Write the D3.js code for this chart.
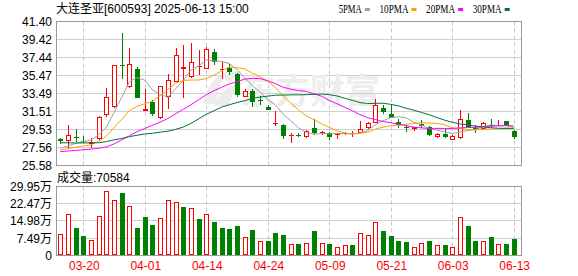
<!DOCTYPE html>
<html><head><meta charset="utf-8">
<script src="https://cdn.jsdelivr.net/npm/d3@7/dist/d3.min.js"></script>
<style>body{margin:0;background:#fff}svg{display:block}</style>
</head><body><svg id="c" width="578" height="276"></svg>
<script>
const stockName = "大连圣亚";
const stockCode = "600593";
const stamp = "2025-06-13 15:00";
const dates = ["03-17","03-18","03-19","03-20","03-21","03-24","03-25","03-26","03-27","03-28","03-31",
"04-01","04-02","04-03","04-07","04-08","04-09","04-10","04-11","04-14","04-15","04-16","04-17","04-18","04-21","04-22","04-23","04-24","04-25","04-28","04-29","04-30",
"05-06","05-07","05-08","05-09","05-12","05-13","05-14","05-15","05-16","05-19","05-20","05-21","05-22","05-23","05-26","05-27","05-28","05-29","05-30",
"06-03","06-04","06-05","06-06","06-09","06-10","06-11","06-12","06-13"];
const open  = [28.45,28.25,28.75,28.22,27.95,28.45,31.10,32.00,36.65,34.25,36.15,31.60,32.55,30.80,33.15,34.75,36.15,35.35,36.45,36.20,38.05,36.18,36.30,35.65,33.15,33.75,32.80,32.00,30.25,30.00,28.85,28.95,28.70,29.65,29.15,29.20,28.90,29.15,29.00,29.20,29.65,30.30,31.90,31.25,30.35,29.78,29.55,30.15,29.80,28.70,29.05,28.40,28.55,30.60,29.65,29.55,30.08,29.95,30.45,29.35];
const high  = [28.65,30.00,29.60,28.85,28.55,31.00,34.10,36.60,40.15,38.50,36.45,34.00,32.80,34.35,35.65,38.50,38.85,39.00,38.27,38.55,38.40,36.90,36.75,35.70,33.95,34.00,33.20,32.27,31.60,30.15,29.10,29.10,29.50,30.65,29.40,29.25,29.10,29.30,29.40,30.45,30.40,32.85,32.25,32.35,30.65,30.05,29.80,30.60,29.95,29.20,29.60,28.90,31.70,31.30,30.00,30.35,30.65,30.58,30.45,29.45];
const low   = [27.95,27.35,28.15,28.00,27.45,28.35,30.95,31.95,35.10,34.10,33.00,31.55,31.00,30.70,31.75,34.70,33.05,35.20,35.49,36.15,36.60,35.10,35.55,33.10,33.10,32.05,32.20,31.65,29.90,28.45,28.10,28.70,28.65,28.90,28.90,28.40,28.50,28.95,28.75,29.10,29.55,30.25,31.25,30.75,29.70,29.25,29.35,29.65,28.80,28.55,28.55,28.35,28.50,29.80,29.10,29.50,29.65,29.90,29.90,28.50];
const close = [28.25,28.90,28.55,28.12,28.15,30.95,33.15,36.60,36.55,36.75,33.05,31.80,31.20,34.30,34.95,37.70,36.40,37.00,36.52,38.35,37.00,36.22,35.80,33.30,33.80,32.60,32.75,31.70,30.30,28.85,28.90,28.80,29.35,29.18,29.22,28.75,29.05,29.20,29.10,29.55,30.20,32.20,31.45,30.80,30.00,29.65,29.78,29.92,28.95,29.05,28.75,28.80,30.65,29.85,29.60,30.20,30.02,30.08,29.92,28.70];
const prevClose0 = 28.00;
// volume in units of 万 (10,000)
const volume = [9.3,18.2,11.8,8.3,6.7,17.3,27.8,24.3,27.0,21.7,11.8,16.6,13.1,16.4,24.3,23.4,20.9,20.8,15.7,18.2,14.7,11.8,11.3,12.6,8.1,10.9,6.5,6.5,9.6,8.7,5.1,4.8,5.5,10.5,5.5,4.8,3.9,4.7,4.4,9.9,9.0,14.7,10.5,8.3,6.5,5.7,3.5,5.5,6.1,4.4,4.4,3.5,16.6,12.6,6.5,6.4,7.9,5.1,5.2,7.0584];
const lastVolume = 70584;
const ma5  = [27.45,27.75,28.00,28.20,28.39,28.93,29.78,31.39,33.08,34.80,35.22,34.95,33.87,33.42,33.06,33.99,34.91,36.07,36.51,37.19,37.05,37.02,36.78,36.13,35.22,34.34,33.65,32.83,32.23,31.24,30.50,29.71,29.24,29.02,29.09,29.06,29.11,29.08,29.06,29.13,29.42,30.05,30.50,30.84,30.93,30.82,30.34,30.03,29.66,29.47,29.29,29.09,29.24,29.42,29.53,29.82,30.06,29.95,29.96,29.78];
const ma10 = [27.28,27.42,27.58,27.72,27.85,28.21,28.80,29.73,30.65,31.60,32.08,32.37,32.63,33.25,33.93,34.61,34.93,34.97,34.97,35.13,35.52,35.96,36.42,36.32,36.21,35.70,35.33,34.80,34.18,33.23,32.42,31.68,31.04,30.62,30.17,29.78,29.41,29.16,29.04,29.11,29.24,29.58,29.79,29.95,30.03,30.12,30.19,30.27,30.25,30.20,30.06,29.72,29.64,29.54,29.50,29.56,29.58,29.60,29.69,29.66];
const ma20 = [27.10,27.17,27.24,27.31,27.38,27.48,27.62,27.95,28.40,28.85,29.30,29.65,30.00,30.35,30.75,31.25,31.75,32.25,32.80,33.36,33.80,34.17,34.53,34.79,35.07,35.15,35.13,34.89,34.57,34.18,33.97,33.82,33.73,33.47,33.19,32.74,32.37,31.98,31.61,31.17,30.83,30.63,30.41,30.29,30.10,29.95,29.80,29.71,29.65,29.66,29.65,29.65,29.71,29.75,29.77,29.84,29.89,29.93,29.97,29.93];
const ma30 = [28.08,28.07,28.06,28.06,28.07,28.08,28.20,28.40,28.55,28.75,28.90,29.05,29.12,29.25,29.35,29.55,29.80,30.20,30.70,31.20,31.60,32.00,32.25,32.50,32.70,32.95,33.10,33.20,33.30,33.32,33.34,33.34,33.36,33.40,33.43,33.36,33.22,32.98,32.73,32.49,32.39,32.41,32.42,32.30,32.13,31.87,31.65,31.41,31.16,30.85,30.57,30.33,30.15,30.04,29.90,29.82,29.73,29.67,29.66,29.66];
const maNames = ["5PMA","10PMA","20PMA","30PMA"];
const priceTicks = [41.40,39.42,37.44,35.47,33.49,31.51,29.53,27.56,25.58];
const volTicks = [0,7.49,14.98,22.47,29.95];
const dateTicks = ["03-20","04-01","04-14","04-24","05-09","05-21","06-03","06-13"];

// ---- styles / layout ----
const RED = "#ff0000", GREEN = "#008000";
const maColors = ["#a0a0a0","#f5a300","#ff00ff","#00733a"];
const L = 56, R = 522, PT = 21.5, PB = 165.5, VT = 186.5, VB = 255.5;
const FONT = "'Liberation Sans', Arial, 'Noto Sans CJK SC', sans-serif";

const svg = d3.select("#c");
const x = d3.scaleLinear().domain([0, dates.length - 1]).range([60.24, 513.7]);
const y = d3.scaleLinear().domain([priceTicks[priceTicks.length-1], priceTicks[0]]).range([PB, PT]);
const yv = d3.scaleLinear().domain([0, volTicks[volTicks.length-1]]).range([VB, VT]);
const px = i => Math.round(x(i));

svg.append("rect").attr("width",578).attr("height",276).attr("fill","#fff");

// ---- title ----
svg.append("text").attr("x", 56).attr("y", 13).attr("font-family", FONT).attr("font-size", 12)
  .attr("fill", "#000").text(`${stockName}[${stockCode}] ${stamp}`);

// ---- legend ----
let lx = 338.7;
maNames.forEach((n, k) => {
  const w = n.length * 5.8;
  svg.append("text").attr("x", lx).attr("y", 12.7).attr("font-family", "'Liberation Serif', serif")
    .attr("font-size", 12).attr("textLength", w).attr("lengthAdjust", "spacingAndGlyphs").attr("fill", "#000").text(n);
  svg.append("rect").attr("x", lx + w + 3).attr("y", 8).attr("width", 5).attr("height", 3).attr("fill", maColors[k]);
  lx += w + 3 + 5 + 9.6;
});

// ---- grids ----
function grid(top, bottom, scale, ticks) {
  ticks.forEach(t => {
    const yy = Math.round(scale(t) - 0.5) + 0.5;
    if (Math.abs(yy - top) < 1 || Math.abs(yy - bottom) < 1) return;
    svg.append("line").attr("x1", L).attr("x2", R).attr("y1", yy).attr("y2", yy)
      .attr("stroke", "#cfcfcf").attr("stroke-width", 1);
  });
  dateTicks.forEach(d => {
    const xx = px(dates.indexOf(d)) + 0.5;
    svg.append("line").attr("x1", xx).attr("x2", xx).attr("y1", top).attr("y2", bottom)
      .attr("stroke", "#c8c8c8").attr("stroke-dasharray", "4,3");
  });
}
grid(PT, PB, y, priceTicks);
grid(VT, VB, yv, volTicks);

// ---- watermark ----
const wm = svg.append("g").attr("fill", "#ececec");
wm.append("path").attr("d", "M203,104 C206,88 214,76 230,70 C220,80 216,92 218,104 Z");
wm.append("path").attr("d", "M214,106 C220,92 230,84 244,82 C234,90 230,98 230,106 Z");
wm.append("path").attr("d", "M224,78 C228,72 236,70 242,72 C236,74 232,78 230,84 Z");
wm.append("text").attr("x", 240).attr("y", 104).attr("font-family", "'Noto Sans CJK SC', sans-serif")
  .attr("font-size", 35).attr("font-weight", "bold").attr("fill", "#ededed").text("东方财富");

// ---- clip ----
svg.append("clipPath").attr("id", "pc").append("rect").attr("x", L).attr("y", PT).attr("width", R - L).attr("height", PB - PT);

// ---- candles ----
const cg = svg.append("g");
dates.forEach((d, i) => {
  const o = open[i], c = close[i], h = high[i], l = low[i];
  const p = px(i);
  const up = c >= o;
  const col = up ? RED : GREEN;
  const top = Math.round(y(Math.max(o, c))), bot = Math.round(y(Math.min(o, c)));
  const hh = Math.max(bot - top, 1);
  // wicks
  cg.append("line").attr("x1", p + 0.5).attr("x2", p + 0.5).attr("y1", Math.round(y(h))).attr("y2", top)
    .attr("stroke", col);
  cg.append("line").attr("x1", p + 0.5).attr("x2", p + 0.5).attr("y1", top + hh).attr("y2", Math.round(y(l)))
    .attr("stroke", col);
  if (up && hh > 1) {
    cg.append("rect").attr("x", p - 1.5).attr("y", top + 0.5).attr("width", 4).attr("height", hh - 1)
      .attr("fill", "#fff").attr("stroke", col);
  } else {
    cg.append("rect").attr("x", p - 2).attr("y", top).attr("width", 5).attr("height", hh).attr("fill", col);
  }
});

// ---- MA lines ----
const line = d3.line().x((d, i) => x(i)).y(d => y(d)).curve(d3.curveLinear);
[ma5, ma10, ma20, ma30].forEach((arr, k) => {
  svg.append("path").datum(arr).attr("d", line).attr("fill", "none").attr("stroke", maColors[k])
    .attr("stroke-width", 1).attr("clip-path", "url(#pc)");
});

// ---- frames ----
svg.append("rect").attr("x", L + 0.5).attr("y", PT).attr("width", R - L - 1).attr("height", PB - PT)
  .attr("fill", "none").attr("stroke", "#999");
svg.append("rect").attr("x", L + 0.5).attr("y", VT).attr("width", R - L - 1).attr("height", VB - VT)
  .attr("fill", "none").attr("stroke", "#999");

// ---- volume bars ----
const vg = svg.append("g");
volume.forEach((v, i) => {
  const prev = i === 0 ? prevClose0 : close[i - 1];
  const up = close[i] >= prev;
  const p = px(i);
  const top = Math.round(yv(v));
  const base = Math.round(VB - 0.5);
  if (up) {
    vg.append("rect").attr("x", p - 1.5).attr("y", top + 0.5).attr("width", 4).attr("height", base - top - 1)
      .attr("fill", "#fff").attr("stroke", RED);
  } else {
    vg.append("rect").attr("x", p - 2).attr("y", top).attr("width", 5).attr("height", base - top).attr("fill", GREEN);
  }
});

// ---- volume title ----
svg.append("text").attr("x", 57).attr("y", 182).attr("font-family", FONT).attr("font-size", 12)
  .attr("fill", "#000").text("成交量:" + lastVolume);

// ---- axes ----
const ax = svg.append("g").attr("transform", `translate(${L},0)`)
  .call(d3.axisLeft(y).tickValues(priceTicks).tickFormat(d => d.toFixed(2)).tickSize(0).tickPadding(4));
const av = svg.append("g").attr("transform", `translate(${L},0)`)
  .call(d3.axisLeft(yv).tickValues(volTicks).tickFormat(d => d === 0 ? "0" : d.toFixed(2) + "万").tickSize(0).tickPadding(4));
const axx = svg.append("g").attr("transform", `translate(0,${VB})`)
  .call(d3.axisBottom(x).tickValues(dateTicks.map(d => dates.indexOf(d))).tickFormat(i => dates[i]).tickSize(0).tickPadding(6));
[ax, av, axx].forEach(g => {
  g.select(".domain").remove();
  g.selectAll("text").attr("font-family", FONT).attr("font-size", 12).attr("fill", "#000");
});
axx.selectAll("text").attr("fill", RED).attr("transform", "translate(0.5,0)");
</script></body></html>
